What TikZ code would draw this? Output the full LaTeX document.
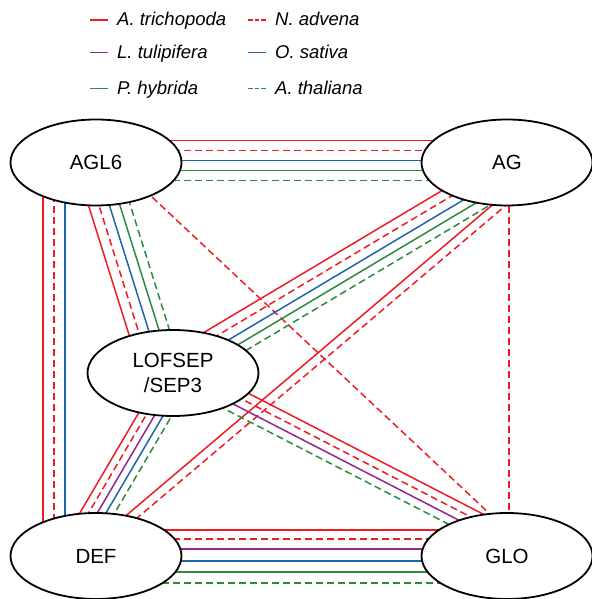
\documentclass[tikz,border=0pt]{standalone}
\usepackage{fontspec}
\setsansfont{Liberation Sans}
\usetikzlibrary{calc, backgrounds, shapes.geometric}
\definecolor{cred}{HTML}{ED1C24}
\definecolor{cpurple}{HTML}{92278F}
\definecolor{cblue}{HTML}{1F64AD}
\definecolor{cgreen}{HTML}{2A8B3F}
\tikzset{
  every picture/.style={font=\sffamily},
  gene/.style={ellipse, draw, line width=1.8pt, fill=white, minimum width=171pt, minimum height=86pt, inner sep=0pt, align=center, font=\sffamily\fontsize{20.5}{25.5}\selectfont},
  link/.style={line width=1.5pt},
  atr/.style={link, draw=cred},
  nad/.style={link, draw=cred, dash pattern=on 7pt off 4pt},
  ltu/.style={link, draw=cpurple},
  osa/.style={link, draw=cblue},
  phy/.style={link, draw=cgreen},
  ath/.style={link, draw=cgreen, dash pattern=on 7pt off 4pt},
  legdash/.style={dash pattern=on 4.5pt off 2pt},
  legend/.style={font=\sffamily\itshape\fontsize{18.5}{22}\selectfont, inner sep=0pt},
}

\begin{document}
\begin{tikzpicture}[x=1pt, y=1pt]
  \useasboundingbox (0,0) rectangle (591,599);

  \foreach \x/\y/\s/\d/\t in {90/579/atr/solid/A. trichopoda, 90/546.7/ltu/solid/L. tulipifera, 90/510.7/phy/solid/P. hybrida, 248/579/nad/legdash/N. advena, 248/546.7/osa/solid/O. sativa, 248/510.7/ath/legdash/A. thaliana} {
    \draw[\s, \d] (\x,\y) -- ++(17.5,0);
    \node[legend, anchor=base west] (leg-\s) at (\x+27,\y-6) {\t};
  }

  \node[gene] (agl) at (96,436.5) {AGL6};
  \node[gene] (ag) at (507,436.5) {AG};
  \node[gene] (lof) at (173,226) {LOFSEP\\/SEP3};
  \node[gene] (def) at (96,43) {DEF};
  \node[gene] (glo) at (507,43) {GLO};

  \coordinate (lofT) at ([xshift=-11pt]lof.center);
  \coordinate (agL) at ([yshift=-11.5pt]ag.center);
  \coordinate (agD) at ([yshift=-36pt]ag.center);
  \coordinate (defA) at ([yshift=9pt]def.center);
  \coordinate (lofD) at ([xshift=6.5pt]lof.center);
  \coordinate (defL) at ([xshift=-24pt]def.center);
  \coordinate (gloL) at ([yshift=11pt]glo.center);
  \coordinate (aglG) at ([yshift=18pt]agl.center);
  \coordinate (gloA) at ([yshift=26pt]glo.center);

  \begin{scope}[on background layer]
    \foreach \k/\s in {22pt/atr, 12pt/nad, 2pt/osa, -8pt/phy, -18pt/ath}
      \draw[\s] ($(agl.center)!\k!90:(ag.center)$) -- ($(ag.center)!\k!-90:(agl.center)$);
    \foreach \k/\s in {-53pt/atr, -42pt/nad, -31pt/osa}
      \draw[\s] ($(agl.center)!\k!90:(def.center)$) -- ($(def.center)!\k!-90:(agl.center)$);
    \foreach \k/\s in {-20pt/atr, -10pt/nad, 0pt/osa, 10pt/phy, 20pt/ath}
      \draw[\s] ($(agl.center)!\k!90:(lofT)$) -- ($(lofT)!\k!-90:(agl.center)$);
    \draw[nad] (aglG) -- (gloA);
    \foreach \k/\s in {-19pt/atr, -9.5pt/nad, 0pt/osa, 9pt/phy, 18pt/ath}
      \draw[\s] ($(agL)!\k!90:(lof.center)$) -- ($(lof.center)!\k!-90:(agL)$);
    \foreach \k/\s in {-4.5pt/atr, 4.5pt/nad}
      \draw[\s] ($(agD)!\k!90:(defA)$) -- ($(defA)!\k!-90:(agD)$);
    \draw[nad] ([xshift=2pt]ag.center) -- ([xshift=2pt]glo.center);
    \foreach \k/\s in {-15pt/atr, -7.5pt/nad, 0pt/ltu, 7.5pt/osa, 15pt/ath}
      \draw[\s] ($(lofD)!\k!90:(defL)$) -- ($(defL)!\k!-90:(lofD)$);
    \foreach \k/\s in {16.5pt/atr, 8.3pt/nad, 0pt/ltu, -8.3pt/ath}
      \draw[\s] ($(lof.center)!\k!90:(gloL)$) -- ($(gloL)!\k!-90:(lof.center)$);
    \foreach \k/\s in {26pt/atr, 17pt/nad, 7pt/ltu, -5pt/osa, -16pt/phy, -27pt/ath}
      \draw[\s] ($(def.center)!\k!90:(glo.center)$) -- ($(glo.center)!\k!-90:(def.center)$);
  \end{scope}
\end{tikzpicture}
\end{document}
